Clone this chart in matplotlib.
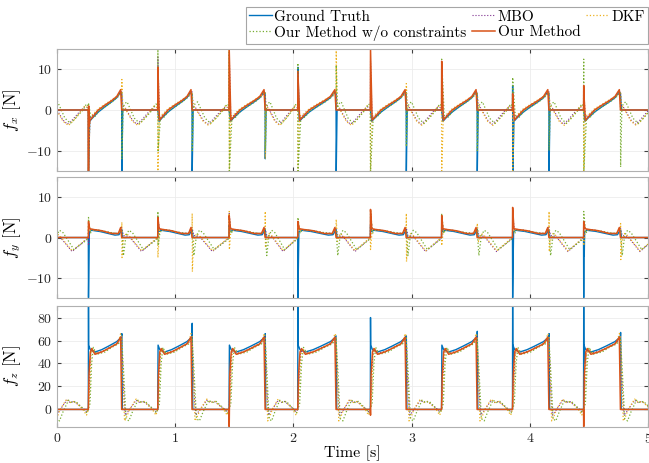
import matplotlib.pyplot as plt

plt.rcParams['font.family'] = 'cmr10'
plt.rcParams['mathtext.fontset'] = 'cm'
plt.rcParams['axes.formatter.use_mathtext'] = True

# gait events [s] (first lift-off is before t=0)
touchdown = [0.265, 0.852, 1.455, 2.036, 2.650, 3.252, 3.852, 4.453]
liftoff = [-0.040, 0.547, 1.142, 1.760, 2.360, 2.953, 3.553, 4.160, 4.765]

series_names = ["Ground Truth", "MBO", "DKF", "Our Method w/o constraints", "Our Method"]
series_colors = ["#0072BD", "#7E2F8E", "#EDB120", "#77AC30", "#D95319"]

no_td = [[]] * 8
no_lo = [[]] * 9
flat_swing = [(0.03, 0), (1.0, 0)]

# ---- f_x : (phase fraction, value) ----
fx_gt_stance = [(0, 0), (0.04, -2.8), (0.12, -2.0), (0.3, -0.5), (0.5, 0.8), (0.7, 2.0), (0.85, 3.0), (0.97, 4.5), (1.0, 4.0)]
fx_gt_td = [[-15], [], [], [10.5], [], [], [6, -15], []]
fx_gt_lo = [[], [-15], [-15], [-12], [-15], [-15], [-15], [-15], []]

fx_mbo_stance = [(0, 0), (0.05, -2.0), (0.15, -1.2), (0.3, 0), (0.5, 1.2), (0.7, 2.3), (0.9, 3.5), (1.0, 4.5)]
fx_mbo_swing = [(0.03, 1.0), (0.1, 0.5), (0.3, -2.5), (0.42, -3.5), (0.55, -2.5), (0.75, -0.5), (0.9, 0.8), (1.0, 0.5)]
fx_mbo_td = [[-15], [13], [14], [9], [12], [6], [4], [5]]

fx_dkf_stance = [(0, 0), (0.05, -1.5), (0.15, -1.0), (0.3, 0.3), (0.5, 1.4), (0.7, 2.5), (0.9, 3.6), (1.0, 4.5)]
fx_dkf_swing = [(0.03, 1.2), (0.1, 0.3), (0.3, -2.8), (0.45, -3.8), (0.6, -2.5), (0.8, -0.3), (0.9, 1.0), (1.0, 0.5)]
fx_dkf_td = [[-15], [-15], [15, -15], [-15], [-15], [-15], [-15], [-15]]
fx_dkf_lo = [[], [7.5], [], [-12], [15], [6.5], [], [], []]

fx_woc_stance = [(0, 0), (0.08, -2.0), (0.18, -1.8), (0.35, 0), (0.55, 1.0), (0.75, 2.2), (0.9, 3.3), (1.0, 4.3)]
fx_woc_swing = [(0.04, 0.5), (0.08, 1.5), (0.15, 2.0), (0.35, -2.0), (0.5, -3.3), (0.65, -2.0), (0.85, 0), (0.95, 1.5), (1.0, 1.0)]
fx_woc_td = [[-15, 1.5], [15, -10], [15, -15], [11.5, -15], [-15], [12.5], [8], [12.5, -15]]
fx_woc_lo = [[], [-12], [-10], [-10], [11], [-9], [-10], [-10], [-14]]

fx_our_stance = [(0, 0), (0.05, -2.5), (0.15, -1.5), (0.3, 0), (0.5, 1.2), (0.7, 2.3), (0.85, 3.3), (0.97, 5.0), (1.0, 0)]
fx_our_td = [[-15, 1, -4], [10.5], [15], [9.5], [15], [12], [4], [6, 4]]

# ---- f_y ----
fy_gt_stance = [(0, 0), (0.03, 1.5), (0.1, 1.8), (0.35, 1.5), (0.6, 1.0), (0.8, 0.6), (0.92, 0.7), (0.97, 1.5), (1.0, 2.0)]
fy_gt_td = [[-15], [5], [3], [-15], [3], [3], [-15], [-15, -4.5, -4.5, -4.5]]

fy_mbo_stance = [(0, 0), (0.05, 2.0), (0.2, 2.0), (0.45, 1.6), (0.7, 1.1), (0.9, 1.0), (0.97, 2.2), (1.0, 2.5)]
fy_mbo_swing = [(0.05, 0.5), (0.2, 0.3), (0.55, -3.5), (0.97, -0.3), (1.0, 0)]
fy_mbo_td = [[-2], [5], [6], [3], [6], [4], [6], [4]]

fy_dkf_stance = [(0, 0), (0.05, 1.8), (0.2, 1.9), (0.45, 1.5), (0.7, 1.0), (0.9, 1.0), (0.97, 2.0), (1.0, 2.5)]
fy_dkf_swing = [(0.04, -1.0), (0.12, 1.0), (0.2, 0.5), (0.55, -3.3), (0.97, -0.2), (1.0, 0)]
fy_dkf_td = [[3], [-5], [6.5, -3], [3], [-3], [-2], [2], [-2]]
fy_dkf_lo = [[], [3.8, -5], [6, -8.5], [6.5, -2.5], [4.5], [6, -6], [3.5], [6.5, -3.5], [3.5, -5.5]]

fy_woc_stance = [(0, 0), (0.06, 1.0), (0.12, 2.0), (0.4, 1.7), (0.7, 1.2), (0.9, 1.0), (1.0, 2.0)]
fy_woc_swing = [(0.05, -4.5), (0.12, 0.5), (0.2, 1.8), (0.3, 1.2), (0.6, -3.0), (0.97, -0.5), (1.0, 0)]
fy_woc_td = [[5], [6.5, -2], [5], [5], [7], [6], [3], [6.5]]

fy_our_stance = [(0, 0), (0.04, 2.2), (0.15, 2.0), (0.4, 1.7), (0.7, 1.0), (0.9, 1.0), (0.97, 2.5), (1.0, 0)]
fy_our_td = [[4], [5], [5.5], [4], [7], [5.5], [7.5], [4]]

# ---- f_z ----
fz_gt_stance = [(0, 0), (0.01, 56), (0.06, 52), (0.2, 50), (0.4, 52), (0.6, 55), (0.85, 59), (0.96, 62), (1.0, 64)]
fz_gt_swing = [(0.02, 0), (1.0, 0)]
fz_gt_td = [[95], [], [], [95], [80], [], [95, 40, 40], [95, 40, 40]]
fz_gt_lo = [[], [66], [75], [66], [], [64], [68], [66], [67]]

fz_mbo_stance = [(0, 0), (0.03, 20), (0.07, 48), (0.12, 52), (0.22, 49), (0.45, 51), (0.7, 55), (0.9, 58), (0.97, 62), (1.0, 63)]
fz_mbo_swing = [(0.05, 20), (0.1, -5), (0.2, -1), (0.4, 8), (0.5, 6), (0.6, 7), (0.85, 1), (0.95, -2), (1.0, 0)]

fz_dkf_stance = [(0, 0), (0.04, 15), (0.08, 47), (0.12, 53), (0.25, 49), (0.5, 51), (0.7, 55), (0.9, 58), (0.97, 66), (1.0, 64)]
fz_dkf_swing = [(0.04, 25), (0.08, -10), (0.12, -8), (0.22, 0), (0.4, 9), (0.5, 6), (0.62, 7), (0.85, 0), (0.95, -5), (1.0, 0)]

fz_woc_stance = [(0, 0), (0.05, 5), (0.1, 40), (0.15, 54), (0.25, 48), (0.5, 50), (0.7, 54), (0.9, 57), (0.97, 60), (1.0, 62)]
fz_woc_swing = [(0.06, 30), (0.12, -8), (0.2, -10), (0.3, -2), (0.45, 8), (0.55, 6), (0.65, 7), (0.88, 0), (0.96, -3), (1.0, 0)]

fz_our_stance = [(0, 0), (0.02, 30), (0.06, 50), (0.1, 53), (0.2, 48), (0.4, 50), (0.6, 53), (0.85, 57), (0.97, 63), (1.0, 0)]
fz_our_td = [[], [], [-15], [], [-5], [], [], [-15]]


def build(stance, swing, td_spk, lo_spk):
    t, y = [], []
    for k, t_lo in enumerate(liftoff):
        for i, v in enumerate(lo_spk[k]):
            t.append(t_lo + 0.0015 * (i + 1))
            y.append(v)
        t_end = touchdown[k] if k < len(touchdown) else t_lo + 0.3
        for f, v in swing:
            t.append(t_lo + f * (t_end - t_lo))
            y.append(v)
        if k == len(touchdown):
            break
        t_td, t_next = touchdown[k], liftoff[k + 1]
        t.append(t_td)
        y.append(stance[0][1])
        for i, v in enumerate(td_spk[k]):
            t.append(t_td + 0.0015 * (i + 1))
            y.append(v)
        for f, v in stance[1:]:
            t.append(t_td + f * (t_next - t_td))
            y.append(v)
    return t, y


panels = [
    ([(fx_gt_stance, flat_swing, fx_gt_td, fx_gt_lo),
      (fx_mbo_stance, fx_mbo_swing, fx_mbo_td, no_lo),
      (fx_dkf_stance, fx_dkf_swing, fx_dkf_td, fx_dkf_lo),
      (fx_woc_stance, fx_woc_swing, fx_woc_td, fx_woc_lo),
      (fx_our_stance, flat_swing, fx_our_td, no_lo)],
     r'$f_x$ [N]', (-15, 15), [-10, 0, 10]),
    ([(fy_gt_stance, flat_swing, fy_gt_td, no_lo),
      (fy_mbo_stance, fy_mbo_swing, fy_mbo_td, no_lo),
      (fy_dkf_stance, fy_dkf_swing, fy_dkf_td, fy_dkf_lo),
      (fy_woc_stance, fy_woc_swing, fy_woc_td, no_lo),
      (fy_our_stance, flat_swing, fy_our_td, no_lo)],
     r'$f_y$ [N]', (-15, 15), [-10, 0, 10]),
    ([(fz_gt_stance, fz_gt_swing, fz_gt_td, fz_gt_lo),
      (fz_mbo_stance, fz_mbo_swing, no_td, no_lo),
      (fz_dkf_stance, fz_dkf_swing, no_td, no_lo),
      (fz_woc_stance, fz_woc_swing, no_td, no_lo),
      (fz_our_stance, flat_swing, fz_our_td, no_lo)],
     r'$f_z$ [N]', (-15, 90), [0, 20, 40, 60, 80]),
]

styles = [dict(ls='-', lw=1.0), dict(ls=':', lw=0.8), dict(ls=':', lw=0.9),
          dict(ls=':', lw=0.9), dict(ls='-', lw=1.1)]

fig = plt.figure(figsize=(6.49, 4.63), dpi=100)
boxes = [(0.0878, 0.6307, 0.911, 0.2635), (0.0878, 0.3570, 0.911, 0.2600), (0.0878, 0.0785, 0.911, 0.2605)]

axes = []
for (series, ylab, ylim, yticks), box in zip(panels, boxes):
    ax = fig.add_axes(box)
    for (st, sw, tds, los), name, col, sty in zip(series, series_names, series_colors, styles):
        t, y = build(st, sw, tds, los)
        ax.plot(t, y, color=col, label=name, **sty)
    ax.set_xlim(0, 5)
    ax.set_ylim(*ylim)
    ax.set_yticks(yticks)
    ax.set_xticks(range(6))
    ax.grid(True, color='#ececec', lw=0.6)
    ax.set_axisbelow(True)
    ax.tick_params(direction='in', length=3, top=True, right=True, labelsize=10,
                   colors='#404040', labelcolor='#262626')
    for s in ax.spines.values():
        s.set_color('#b0b0b0')
    ax.set_ylabel(ylab, fontsize=12)
    ax.yaxis.set_label_coords(-0.058, 0.5)
    axes.append(ax)

axes[0].tick_params(labelbottom=False)
axes[1].tick_params(labelbottom=False)
axes[2].set_xlabel('Time [s]', fontsize=11.5, labelpad=0)

h, l = axes[0].get_legend_handles_labels()
order = [0, 3, 1, 4, 2]
leg = fig.legend([h[i] for i in order], [l[i] for i in order], ncol=3,
                 loc='upper right', bbox_to_anchor=(0.9985, 0.985), fontsize=11,
                 frameon=True, fancybox=False, edgecolor='#a6a6a6', framealpha=1,
                 handlelength=1.5, handletextpad=0.15, columnspacing=0.4,
                 labelspacing=0.1, borderpad=0.2, borderaxespad=0)
leg.get_frame().set_linewidth(0.8)

fig.savefig('out.png', dpi=100)
